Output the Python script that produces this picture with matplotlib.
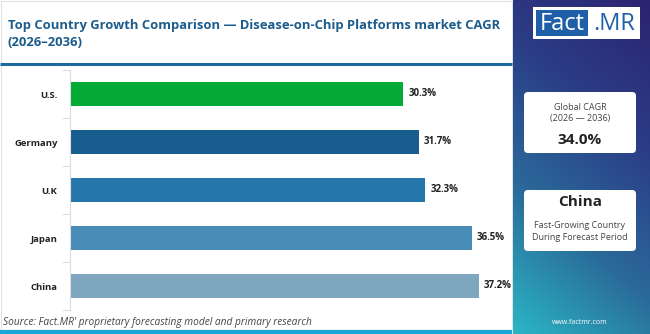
import numpy as np
import matplotlib.pyplot as plt
from matplotlib.colors import LinearSegmentedColormap
from matplotlib.patches import FancyBboxPatch, Rectangle

# data
countries = ["U.S.", "Germany", "U.K", "Japan", "China"]
cagr = [30.3, 31.7, 32.3, 36.5, 37.2]
bar_colors = ["#03aa35", "#175d8e", "#2677ab", "#4a8cb8", "#7ea7bf"]
global_cagr = "34.0%"
top_country = "China"

plt.rcParams['font.family'] = ['Open Sans', 'DejaVu Sans']

fig = plt.figure(figsize=(6.5, 3.34), dpi=100)
fig.patch.set_facecolor("white")

# ---- bar chart ----
ax = fig.add_axes([70 / 650, 1 - 310 / 334, 440 / 650, 240 / 334])
y = np.arange(len(countries))
ax.barh(y, cagr, height=0.5, color=bar_colors)
for yi, v in zip(y, cagr):
    ax.text(v + 0.45, yi, f"{v}%", va="center", ha="left", fontsize=7,
            fontweight="bold", color="#222222")
ax.set_yticks(y)
ax.set_yticklabels(countries, fontsize=6.8, fontweight="bold", color="#222222")
ax.set_yticks(np.arange(len(countries) + 1) - 0.5, minor=True)
ax.tick_params(axis="y", which="major", length=0, pad=9)
ax.tick_params(axis="y", which="minor", length=6, color="#dddddd", width=0.8)
ax.set_xlim(0, 40)
ax.set_ylim(len(countries) - 0.5, -0.5)
ax.set_xticks([])
for s in ["top", "right", "bottom"]:
    ax.spines[s].set_visible(False)
ax.spines["left"].set_color("#dddddd")
ax.spines["left"].set_linewidth(0.8)

# ---- decorations (pixel coordinates) ----
over = fig.add_axes([0, 0, 1, 1], zorder=5)
over.set_xlim(0, 650)
over.set_ylim(334, 0)
over.axis("off")

# light frame on left area
over.add_patch(Rectangle((1, 1), 511, 332, fill=False, ec="#e2e2e2", lw=0.8))
over.text(8, 25, "Top Country Growth Comparison \u2014 Disease-on-Chip Platforms market CAGR",
          fontsize=9.4, fontweight="bold", color="#1b5c8c", va="center")
over.text(8, 43, "(2026\u20132036)", fontsize=9.4, fontweight="bold", color="#1b5c8c", va="center")
over.plot([0, 512], [64, 64], color="#1d6a9e", lw=2.2, solid_capstyle="butt")
over.plot([0, 512], [332, 332], color="#19a6d6", lw=3, solid_capstyle="butt")
over.text(3, 322, "Source: Fact.MR' proprietary forecasting model and primary research",
          fontsize=7.3, style="italic", color="#444444", va="center")

# right gradient panel
gx, gy = np.meshgrid(np.linspace(0, 1, 100), np.linspace(0, 1, 200))
grad = (gy * 1.0 + (1 - gx) * 0.35) / 1.35
cmap = LinearSegmentedColormap.from_list("fm", ["#2c2470", "#2b3c86", "#2a6a9a", "#2ab6c4"])
over.imshow(grad, cmap=cmap, extent=[513, 650, 334, 0], aspect="auto", zorder=1)

# logo
over.add_patch(Rectangle((533, 7), 107, 32, fc="white", ec="none", zorder=2))
over.add_patch(Rectangle((536, 10), 52, 26, fc="#1f5fa8", ec="none", zorder=3))
over.text(562, 23.5, "Fact", fontsize=17, color="white", ha="center", va="center", zorder=4)
over.text(614, 23.5, ".MR", fontsize=17, color="#1f5fa8", ha="center", va="center", zorder=4)

# cards
for y0 in [92, 190]:
    over.add_patch(FancyBboxPatch((524, y0), 112, 61, boxstyle="round,pad=0,rounding_size=4",
                                  fc="white", ec="none", zorder=2))
over.text(580, 107, "Global CAGR", fontsize=6.5, color="#444444", ha="center", va="center", zorder=3)
over.text(580, 119, "(2026 \u2014 2036)", fontsize=6.5, color="#444444", ha="center", va="center", zorder=3)
over.text(580, 140, global_cagr, fontsize=11, fontweight="bold", color="#222222",
          ha="center", va="center", zorder=3)
over.text(580, 202, top_country, fontsize=11, fontweight="bold", color="#222222",
          ha="center", va="center", zorder=3)
over.text(580, 225, "Fast-Growing Country", fontsize=6.5, color="#444444", ha="center", va="center", zorder=3)
over.text(580, 238, "During Forecast Period", fontsize=6.5, color="#444444", ha="center", va="center", zorder=3)
over.text(580, 322, "www.factmr.com", fontsize=5, color="white", ha="center", va="center", zorder=3)

fig.savefig("out.png", dpi=100)
